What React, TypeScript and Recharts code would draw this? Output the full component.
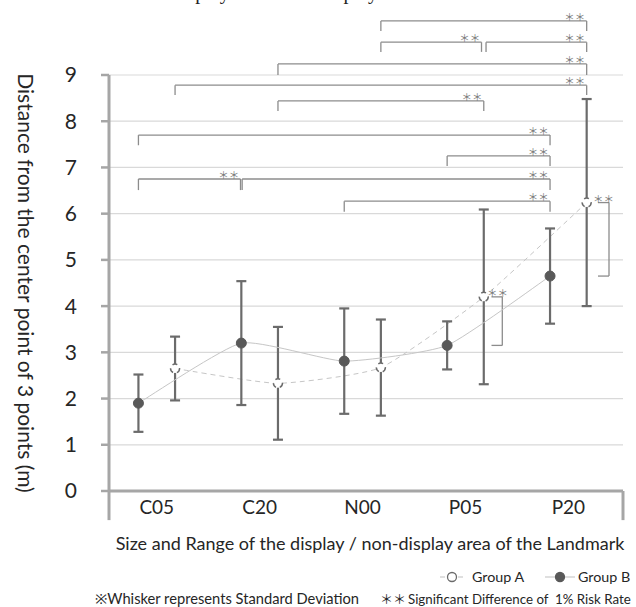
import React from 'react';
import {
  ComposedChart,
  Line,
  XAxis,
  YAxis,
  CartesianGrid,
  ErrorBar,
  ReferenceLine,
  ReferenceDot,
  Legend,
  Customized,
} from 'recharts';

// ---------- data ----------
const categories = ['C05', 'C20', 'N00', 'P05', 'P20'];
const groupAMean = [2.65, 2.33, 2.67, 4.2, 6.24];
const groupASD = [0.69, 1.22, 1.04, 1.89, 2.24];
const groupBMean = [1.9, 3.2, 2.81, 3.15, 4.65];
const groupBSD = [0.62, 1.34, 1.14, 0.52, 1.03];
const yTicks = [0, 1, 2, 3, 4, 5, 6, 7, 8, 9];
const seriesNames = ['Group A', 'Group B'];

// significance brackets between categories of one group
const sigBrackets: { group: 'A' | 'B'; from: number; to: number; top: number; leg: number; nudgeFrom?: number; nudgeTo?: number }[] = [
  { group: 'A', from: 2, to: 4, top: 10.17, leg: 9.95 },
  { group: 'A', from: 2, to: 3, top: 9.71, leg: 9.5, nudgeTo: -0.022 },
  { group: 'A', from: 3, to: 4, top: 9.71, leg: 9.5, nudgeFrom: 0.022 },
  { group: 'A', from: 1, to: 4, top: 9.24, leg: 9.0 },
  { group: 'A', from: 0, to: 4, top: 8.78, leg: 8.57 },
  { group: 'A', from: 1, to: 3, top: 8.44, leg: 8.22 },
  { group: 'B', from: 0, to: 4, top: 7.7, leg: 7.48 },
  { group: 'B', from: 3, to: 4, top: 7.25, leg: 7.03 },
  { group: 'B', from: 0, to: 1, top: 6.75, leg: 6.51, nudgeTo: -0.008 },
  { group: 'B', from: 1, to: 4, top: 6.75, leg: 6.51, nudgeFrom: 0.008 },
  { group: 'B', from: 2, to: 4, top: 6.27, leg: 6.04 },
];
// significance between group A and group B within a category
const sideBrackets = [
  { cat: 3, inner: 0.075, outer: 0.18, star: 0.133 },
  { cat: 4, inner: 0.11, outer: 0.217, star: 0.163 },
];

// ---------- layout / style ----------
const X_DOMAIN: [number, number] = [0.036, 5.031];
const GROUP_OFFSET = 0.178;
const FONT = "Lato, 'Noto Sans', 'Noto Sans CJK JP', sans-serif";
const TEXT = '#262626';
const AXIS = '#a6a6a6';
const BRACKET = '#8c8c8c';
const STAR = '#7a7a7a';
const WHISKER = '#6b6b6b';
const SMOOTHING = 0.5;

const xA = (i: number) => i + 0.5 + GROUP_OFFSET;
const xB = (i: number) => i + 0.5 - GROUP_OFFSET;
const xOf = (g: 'A' | 'B', i: number) => (g === 'A' ? xA(i) : xB(i));

const groupAData = categories.map((c, i) => ({ cat: c, x: xA(i), y: groupAMean[i], sd: groupASD[i] }));
const groupBData = categories.map((c, i) => ({ cat: c, x: xB(i), y: groupBMean[i], sd: groupBSD[i] }));

// lightly smoothed line (Catmull-Rom style cubic Bezier, reduced tension)
const smoothCurve: any = (context: any) => {
  let pts: number[][] = [];
  const k = SMOOTHING / 6;
  return {
    areaStart() {},
    areaEnd() {},
    lineStart() {
      pts = [];
    },
    point(x: number, y: number) {
      pts.push([+x, +y]);
    },
    lineEnd() {
      if (!pts.length) return;
      context.moveTo(pts[0][0], pts[0][1]);
      for (let i = 0; i < pts.length - 1; i++) {
        const p0 = pts[i - 1] || pts[i];
        const p1 = pts[i];
        const p2 = pts[i + 1];
        const p3 = pts[i + 2] || p2;
        context.bezierCurveTo(
          p1[0] + (p2[0] - p0[0]) * k,
          p1[1] + (p2[1] - p0[1]) * k,
          p2[0] - (p3[0] - p1[0]) * k,
          p2[1] - (p3[1] - p1[1]) * k,
          p2[0],
          p2[1],
        );
      }
    },
  };
};

const StarMark = (props: any) => (
  <text
    x={props.cx}
    y={props.cy - 4.5}
    textAnchor="middle"
    dominantBaseline="central"
    fontSize={10.5}
    fill={STAR}
    fontFamily="'Noto Sans CJK JP', sans-serif"
  >
    ＊＊
  </text>
);

const YTitle = (props: any) => {
  const vb = props.viewBox || { x: 0, y: 75, width: 109, height: 416 };
  const x = vb.x + 26;
  const y = vb.y + vb.height / 2;
  return (
    <text
      x={x}
      y={y}
      transform={`rotate(90, ${x}, ${y})`}
      textAnchor="middle"
      dominantBaseline="central"
      fontSize={21}
      fill={TEXT}
      fontFamily={FONT}
    >
      Distance from the center point of 3 points (m)
    </text>
  );
};

const XTitle = (props: any) => {
  const vb = props.viewBox || { x: 109, y: 491, width: 514, height: 116 };
  const x = vb.x + vb.width / 2 + 4;
  const y = vb.y + 52;
  return (
    <text x={x} y={y} textAnchor="middle" dominantBaseline="central" fontSize={18} fill={TEXT} fontFamily={FONT}>
      Size and Range of the display / non-display area of the Landmark
    </text>
  );
};

const legendStyles = [
  { dash: '5 4', fill: '#ffffff', stroke: WHISKER, lineX: [440, 464], cx: 452, textX: 472 },
  { dash: undefined, fill: '#595959', stroke: '#595959', lineX: [545, 575], cx: 560, textX: 578 },
];

const LegendContent = (props: any) => {
  const payload: any[] = (props.payload || []).filter((p: any) => seriesNames.includes(p.value));
  const items = payload.length ? payload.map((p: any) => p.value) : seriesNames;
  return (
    <svg width={636} height={47} style={{ display: 'block' }}>
      {items.map((name: string, i: number) => {
        const s = legendStyles[i];
        return (
          <g key={name}>
            <line x1={s.lineX[0]} x2={s.lineX[1]} y1={17} y2={17} stroke="#bfbfbf" strokeWidth={1} strokeDasharray={s.dash} />
            <circle cx={s.cx} cy={17} r={4.5} fill={s.fill} stroke={s.stroke} strokeWidth={1.3} />
            <text x={s.textX} y={22} fontSize={14.3} fill={TEXT} fontFamily={FONT}>
              {name}
            </text>
          </g>
        );
      })}
      <text x={95} y={44} fontSize={14.7} fill={TEXT} fontFamily={FONT}>
        ※Whisker represents Standard Deviation
      </text>
      <text x={380} y={44} fontSize={13} fill={TEXT} fontFamily="'Noto Sans CJK JP', sans-serif">
        ＊＊
      </text>
      <text x={408} y={44} fontSize={13.3} fill={TEXT} fontFamily={FONT} xmlSpace="preserve">
        Significant Difference of  1% Risk Rate
      </text>
    </svg>
  );
};

const TopCaption = () => (
  <text x={172} y={-1.5} fontSize={20} fill="#222" fontFamily="'Liberation Serif', serif">
    display area / non-display area
  </text>
);

export default function App() {
  const lines: React.ReactNode[] = [];
  const stars: React.ReactNode[] = [];
  const seg = (key: string, x1: number, y1: number, x2: number, y2: number) => (
    <ReferenceLine
      key={key}
      segment={[{ x: x1, y: y1 }, { x: x2, y: y2 }]}
      stroke={BRACKET}
      strokeWidth={1.3}
      ifOverflow="visible"
    />
  );

  sigBrackets.forEach((b, k) => {
    const x1 = xOf(b.group, b.from) + (b.nudgeFrom || 0);
    const x2 = xOf(b.group, b.to) + (b.nudgeTo || 0);
    lines.push(seg(`b${k}l`, x1, b.leg, x1, b.top));
    lines.push(seg(`b${k}h`, x1, b.top, x2, b.top));
    lines.push(seg(`b${k}r`, x2, b.top, x2, b.leg));
    stars.push(<ReferenceDot key={`s${k}`} x={x2 - 0.115} y={b.top} ifOverflow="visible" shape={StarMark} />);
  });
  sideBrackets.forEach((s, k) => {
    const top = groupAMean[s.cat];
    const bot = groupBMean[s.cat];
    const xi = xA(s.cat) + s.inner;
    const xo = xA(s.cat) + s.outer;
    lines.push(seg(`sd${k}t`, xi, top, xo, top));
    lines.push(seg(`sd${k}v`, xo, top, xo, bot));
    lines.push(seg(`sd${k}b`, xo, bot, xi, bot));
    stars.push(<ReferenceDot key={`ss${k}`} x={xA(s.cat) + s.star} y={top} ifOverflow="visible" shape={StarMark} />);
  });

  return (
    <div style={{ position: 'absolute', left: 0, top: 0 }}>
      <ComposedChart width={636} height={607} margin={{ top: 75, right: 13, bottom: 0, left: 0 }}>
        <CartesianGrid vertical={false} stroke="#d9d9d9" strokeWidth={1.2} />
        <XAxis
          type="number"
          dataKey="x"
          domain={X_DOMAIN}
          allowDataOverflow
          ticks={[0.5, 1.5, 2.5, 3.5, 4.5]}
          interval={0}
          tickFormatter={(v: number) => categories[Math.round(v - 0.5)]}
          tickLine={false}
          tickMargin={4}
          axisLine={{ stroke: AXIS, strokeWidth: 3 }}
          tick={{ fontSize: 19, fill: TEXT, fontFamily: FONT }}
          height={116}
          label={XTitle}
        />
        <YAxis
          type="number"
          domain={[0, 9]}
          ticks={yTicks}
          interval={0}
          width={109}
          tickSize={8}
          tickMargin={24}
          axisLine={{ stroke: AXIS, strokeWidth: 3 }}
          tickLine={{ stroke: AXIS, strokeWidth: 2.5 }}
          tick={{ fontSize: 21, fill: TEXT, fontFamily: FONT }}
          label={YTitle}
        />
        <ReferenceLine segment={[{ x: X_DOMAIN[0], y: 0 }, { x: X_DOMAIN[0], y: -0.63 }]} stroke={AXIS} strokeWidth={3} ifOverflow="visible" />
        <ReferenceLine segment={[{ x: X_DOMAIN[1], y: 0 }, { x: X_DOMAIN[1], y: -0.63 }]} stroke={AXIS} strokeWidth={3} ifOverflow="visible" />
        {lines}
        <Line
          data={groupAData}
          dataKey="y"
          name={seriesNames[0]}
          type={smoothCurve}
          stroke="#c6c6c6"
          strokeWidth={1}
          strokeDasharray="5 4"
          dot={{ r: 4.5, fill: '#ffffff', stroke: WHISKER, strokeWidth: 1.5 }}
          activeDot={false}
          isAnimationActive={false}
        >
          <ErrorBar dataKey="sd" direction="y" width={5} stroke={WHISKER} strokeWidth={2.2} isAnimationActive={false} />
        </Line>
        <Line
          data={groupBData}
          dataKey="y"
          name={seriesNames[1]}
          type={smoothCurve}
          stroke="#c6c6c6"
          strokeWidth={1}
          dot={{ r: 5, fill: '#595959', stroke: '#595959', strokeWidth: 1 }}
          activeDot={false}
          isAnimationActive={false}
        >
          <ErrorBar dataKey="sd" direction="y" width={5} stroke={WHISKER} strokeWidth={2.2} isAnimationActive={false} />
        </Line>
        {stars}
        <Legend
          layout="horizontal"
          verticalAlign="middle"
          content={LegendContent}
          wrapperStyle={{ position: 'absolute', left: 0, top: 560, width: 636, height: 47 }}
        />
        <Customized component={TopCaption} />
      </ComposedChart>
    </div>
  );
}
